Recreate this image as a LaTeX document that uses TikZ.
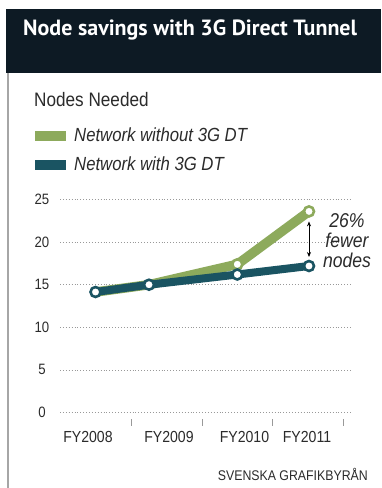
\documentclass[tikz,border=0pt]{standalone}
\usepackage{fontspec}
\setmainfont{Liberation Sans}
\newfontfamily\cond[FakeStretch=0.88]{Liberation Sans}
\newfontfamily\titlefont{PT Sans}
\usetikzlibrary{arrows.meta}
\definecolor{hdr}{HTML}{0D1A24}
\definecolor{grn}{HTML}{8DAA5C}
\definecolor{dtteal}{HTML}{1A5462}
\definecolor{txt}{HTML}{2B2B2B}
\tikzset{
  gridline/.style={gray!80, line width=0.7pt, dash pattern=on 0.7pt off 2.2pt},
  ticklab/.style={font=\cond\fontsize{16}{18}\selectfont, text=txt, inner sep=0},
  ylab/.style={font=\cond\fontsize{15}{17}\selectfont, text=txt, inner sep=0},
  legtxt/.style={font=\cond\itshape\fontsize{19}{21}\selectfont, text=txt, anchor=base west, inner sep=0},
  gline/.style={grn, line width=9.5pt, line join=round, line cap=round},
  tline/.style={dtteal, line width=8pt, line join=round, line cap=round},
  gdot/.style={circle, draw=grn, fill=white, line width=2.6pt, minimum size=10pt, inner sep=0},
  tdot/.style={circle, draw=dtteal, fill=white, line width=2.6pt, minimum size=10pt, inner sep=0},
  xtick/.style={gray!80, line width=0.9pt},
}
\begin{document}
\begin{tikzpicture}[x=1pt,y=-1pt]
\useasboundingbox[fill=white] (0,0) rectangle (381,488);
% header
\fill[hdr] (6,9) rectangle (381,73);
\draw[gray!70, line width=1.5pt] (8,73) -- (8,488);
\node[anchor=base west, text=white, font=\titlefont\bfseries\fontsize{22}{24}\selectfont, inner sep=0] (title) at (23,35) {Node savings with 3G Direct Tunnel};
\node[anchor=base west, text=txt, font=\cond\fontsize{19.5}{21}\selectfont, inner sep=0] (ytitle) at (34,106) {Nodes Needed};
% legend
\fill[grn] (35,131) rectangle (66,141);
\node[legtxt] (leg1) at (74,141) {Network without 3G DT};
\fill[dtteal] (35,160) rectangle (66,170);
\node[legtxt] (leg2) at (74,170) {Network with 3G DT};
% grid
\foreach \v in {0,5,...,25}{
  \pgfmathsetmacro{\yy}{412.5-8.52*\v}
  \draw[gridline] (60,\yy) -- (352,\yy);
  \node[ylab] (y\v) at (42,\yy) {\v};
}
% x ticks and labels
\foreach \xx in {131.7,202.3,272.7,343.7}{
  \draw[xtick] (\xx,419) -- (\xx,426);
}
\node[ticklab] (fy8) at (88,437) {FY2008};
\node[ticklab] (fy9) at (169,437) {FY2009};
\node[ticklab] (fy10) at (244.5,437) {FY2010};
\node[ticklab] (fy11) at (307,437) {FY2011};
% data
\coordinate (t1) at (95.5,292);
\coordinate (t2) at (149,284.7);
\coordinate (t3) at (237.3,274.5);
\coordinate (t4) at (309,266);
\coordinate (g3) at (237.3,264.3);
\coordinate (g4) at (309,211.4);
\draw[gline] (t1) -- (t2) -- (g3) -- (g4);
\node[gdot] (g3c) at (g3) {};
\node[gdot] (g4c) at (g4) {};
\draw[tline] (t1) -- (t2) -- (t3) -- (t4);
\node[tdot] (t1c) at (t1) {};
\node[tdot] (t2c) at (t2) {};
\node[tdot] (t3c) at (t3) {};
\node[tdot] (t4c) at (t4) {};
% arrow
\draw[black, line width=0.8pt, {Stealth[length=5pt,width=4pt]}-{Stealth[length=5pt,width=4pt]}, shorten <=10pt, shorten >=9pt] (g4c.center) -- (t4c.center);
\node[font=\cond\itshape\fontsize{20}{20}\selectfont, text=txt, align=center, inner sep=0] (note) at (347,241) {26\%\\fewer\\nodes};
% source
\node[anchor=east, font=\cond\fontsize{14}{16}\selectfont, text=txt, inner sep=0] (src) at (368,474) {SVENSKA GRAFIKBYRÅN};
\end{tikzpicture}
\end{document}
